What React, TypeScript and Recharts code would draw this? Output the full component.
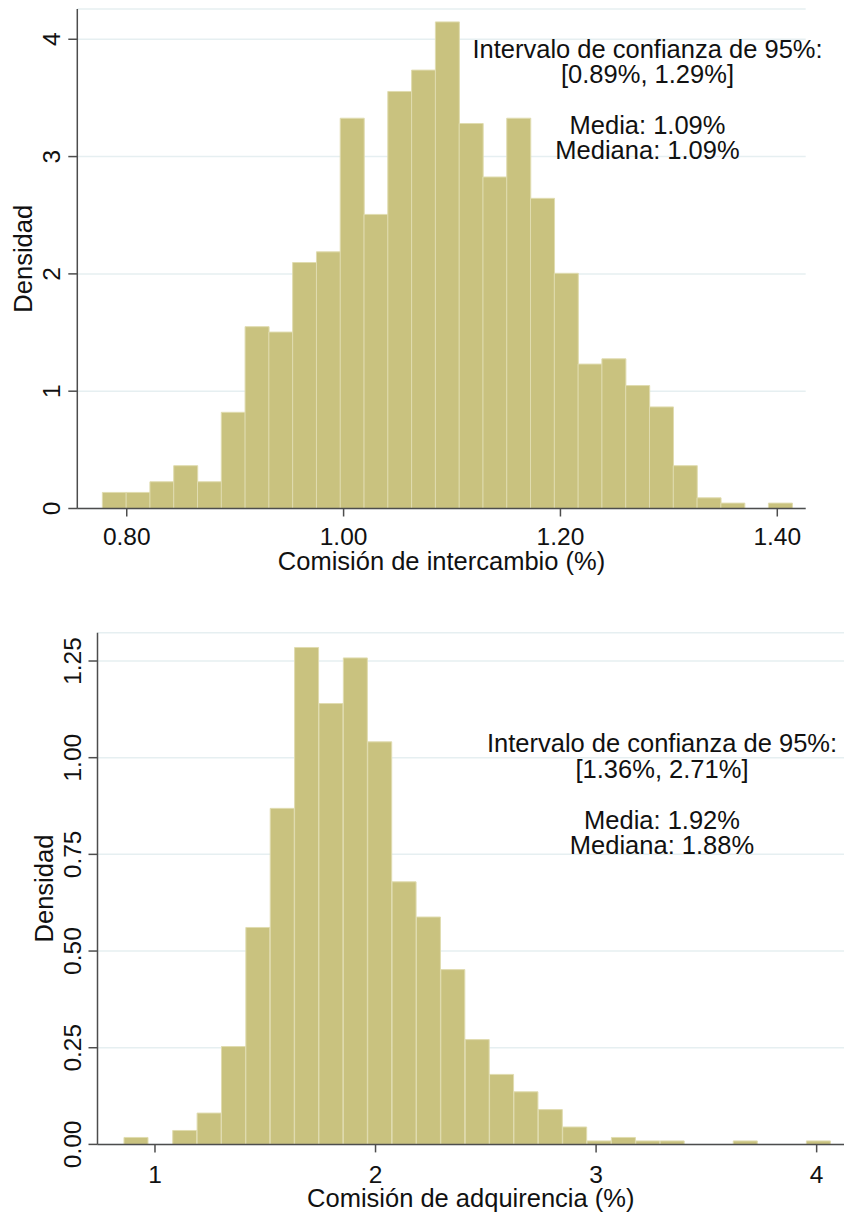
import { Bar, BarChart, CartesianGrid, XAxis, YAxis } from 'recharts'

const FONT = '"Liberation Sans", Arial, Helvetica, sans-serif'
const BAR_FILL = '#c9c27f'
const BAR_EDGE = '#e0dcb0'
const AXIS = '#4d4d4d'
const GRID = '#e6eff1'
const INK = '#111111'

// intercambio: 29 bins
const TOP_START = 0.7775
const TOP_WIDTH = 0.02194
const TOP_DENSITY = [
  0.137, 0.137, 0.228, 0.365, 0.228, 0.820, 1.550, 1.504, 2.097, 2.188, 3.327, 2.507, 3.555, 3.737, 4.148,
  3.282, 2.826, 3.327, 2.644, 2.005, 1.231, 1.276, 1.048, 0.866, 0.365, 0.091, 0.046, 0, 0.046,
]
const TOP_X_TICKS = [0.8, 1.0, 1.2, 1.4]
const TOP_Y_TICKS = [0, 1, 2, 3, 4]
const TOP_NOTE = ['Intervalo de confianza de 95%:', '[0.89%, 1.29%]', '', 'Media: 1.09%', 'Mediana: 1.09%']

// adquirencia: 29 bins
const BOTTOM_START = 0.8595
const BOTTOM_WIDTH = 0.1105
const BOTTOM_DENSITY = [
  0.018, 0, 0.036, 0.081, 0.253, 0.561, 0.869, 1.285, 1.140, 1.258, 1.041, 0.679, 0.588, 0.452, 0.271,
  0.181, 0.136, 0.090, 0.045, 0.009, 0.018, 0.009, 0.009, 0, 0, 0.009, 0, 0, 0.009,
]
const BOTTOM_X_TICKS = [1, 2, 3, 4]
const BOTTOM_Y_TICKS = [0, 0.25, 0.5, 0.75, 1, 1.25]
const BOTTOM_NOTE = ['Intervalo de confianza de 95%:', '[1.36%, 2.71%]', '', 'Media: 1.92%', 'Mediana: 1.88%']

const toBins = (start: number, width: number, density: number[]) =>
  density.map((d, i) => ({ mid: start + (i + 0.5) * width, density: d }))

function Note({ lines, cx, top }: { lines: string[]; cx: number; top: number }) {
  return (
    <div
      style={{
        position: 'absolute',
        left: cx - 220,
        top,
        width: 440,
        textAlign: 'center',
        fontFamily: FONT,
        fontSize: 25.5,
        lineHeight: '25.4px',
        color: INK,
        whiteSpace: 'pre',
      }}
    >
      {lines.map((l, i) => (
        <div key={i}>{l || '\u00a0'}</div>
      ))}
    </div>
  )
}

interface HistProps {
  top: number
  height: number
  data: { mid: number; density: number }[]
  xDomain: [number, number]
  yDomain: [number, number]
  xTicks: number[]
  yTicks: number[]
  xDigits: number
  yDigits: number
  xTitle: string
  yAxisWidth: number
  yTickMargin: number
  yTitleX: number
  xAxisHeight: number
  xTickMargin: number
  margin: { top: number; right: number; bottom: number; left: number }
}

function Hist(p: HistProps) {
  const yTick = (props: any) => {
    const { x, y, payload } = props
    return (
      <text
        x={x}
        y={y}
        transform={`rotate(-90 ${x} ${y})`}
        textAnchor="middle"
        fontSize={24.5}
        fontFamily={FONT}
        fill={INK}
      >
        {Number(payload.value).toFixed(p.yDigits)}
      </text>
    )
  }
  const yTitle = (props: any) => {
    const vb = props.viewBox ?? {}
    const cy = (vb.y ?? 0) + (vb.height ?? 0) / 2
    return (
      <text
        x={p.yTitleX}
        y={cy}
        transform={`rotate(-90 ${p.yTitleX} ${cy})`}
        textAnchor="middle"
        fontSize={25.5}
        fontFamily={FONT}
        fill={INK}
      >
        Densidad
      </text>
    )
  }

  return (
    <div style={{ position: 'absolute', left: 0, top: p.top }}>
      <BarChart width={846} height={p.height} data={p.data} margin={p.margin} barCategoryGap={0} barGap={0}>
        <CartesianGrid vertical={false} stroke={GRID} strokeWidth={1.5} />
        <XAxis
          type="number"
          dataKey="mid"
          domain={p.xDomain}
          allowDataOverflow
          ticks={p.xTicks}
          tickFormatter={(v: number) => v.toFixed(p.xDigits)}
          height={p.xAxisHeight}
          tickSize={8}
          tickMargin={p.xTickMargin}
          stroke={AXIS}
          strokeWidth={1.5}
          tick={{ fill: INK, fontSize: 24.5, fontFamily: FONT }}
          label={{ value: p.xTitle, position: 'insideBottom', offset: 0, fill: INK, fontSize: 25.5, fontFamily: FONT }}
        />
        <YAxis
          type="number"
          domain={p.yDomain}
          allowDataOverflow
          ticks={p.yTicks}
          width={p.yAxisWidth}
          tickSize={9}
          tickMargin={p.yTickMargin}
          stroke={AXIS}
          strokeWidth={1.5}
          tick={yTick}
          label={{ content: yTitle }}
        />
        <Bar dataKey="density" fill={BAR_FILL} stroke={BAR_EDGE} strokeWidth={1} isAnimationActive={false} />
      </BarChart>
    </div>
  )
}

export default function App() {
  return (
    <div style={{ position: 'absolute', left: 0, top: 0, width: 846, height: 1216, background: '#fff', fontFamily: FONT }}>
      <Hist
        top={0}
        height={600}
        data={toBins(TOP_START, TOP_WIDTH, TOP_DENSITY)}
        xDomain={[0.7544, 1.4262]}
        yDomain={[0, 4.258]}
        xTicks={TOP_X_TICKS}
        yTicks={TOP_Y_TICKS}
        xDigits={2}
        yDigits={0}
        xTitle="Comisión de intercambio (%)"
        yAxisWidth={77.3}
        yTickMargin={8.5}
        yTitleX={31.5}
        xAxisHeight={61}
        xTickMargin={11.5}
        margin={{ top: 9, right: 40.3, bottom: 30.5, left: 0 }}
      />
      <Note lines={TOP_NOTE} cx={647.5} top={36.6} />
      <Hist
        top={600}
        height={616}
        data={toBins(BOTTOM_START, BOTTOM_WIDTH, BOTTOM_DENSITY)}
        xDomain={[0.7394, 4.124]}
        yDomain={[0, 1.3232]}
        xTicks={BOTTOM_X_TICKS}
        yTicks={BOTTOM_Y_TICKS}
        xDigits={0}
        yDigits={2}
        xTitle="Comisión de adquirencia (%)"
        yAxisWidth={97.5}
        yTickMargin={7.5}
        yTitleX={53}
        xAxisHeight={63}
        xTickMargin={13.5}
        margin={{ top: 32.7, right: 2, bottom: 8.6, left: 0 }}
      />
      <Note lines={BOTTOM_NOTE} cx={662} top={731.3} />
    </div>
  )
}
